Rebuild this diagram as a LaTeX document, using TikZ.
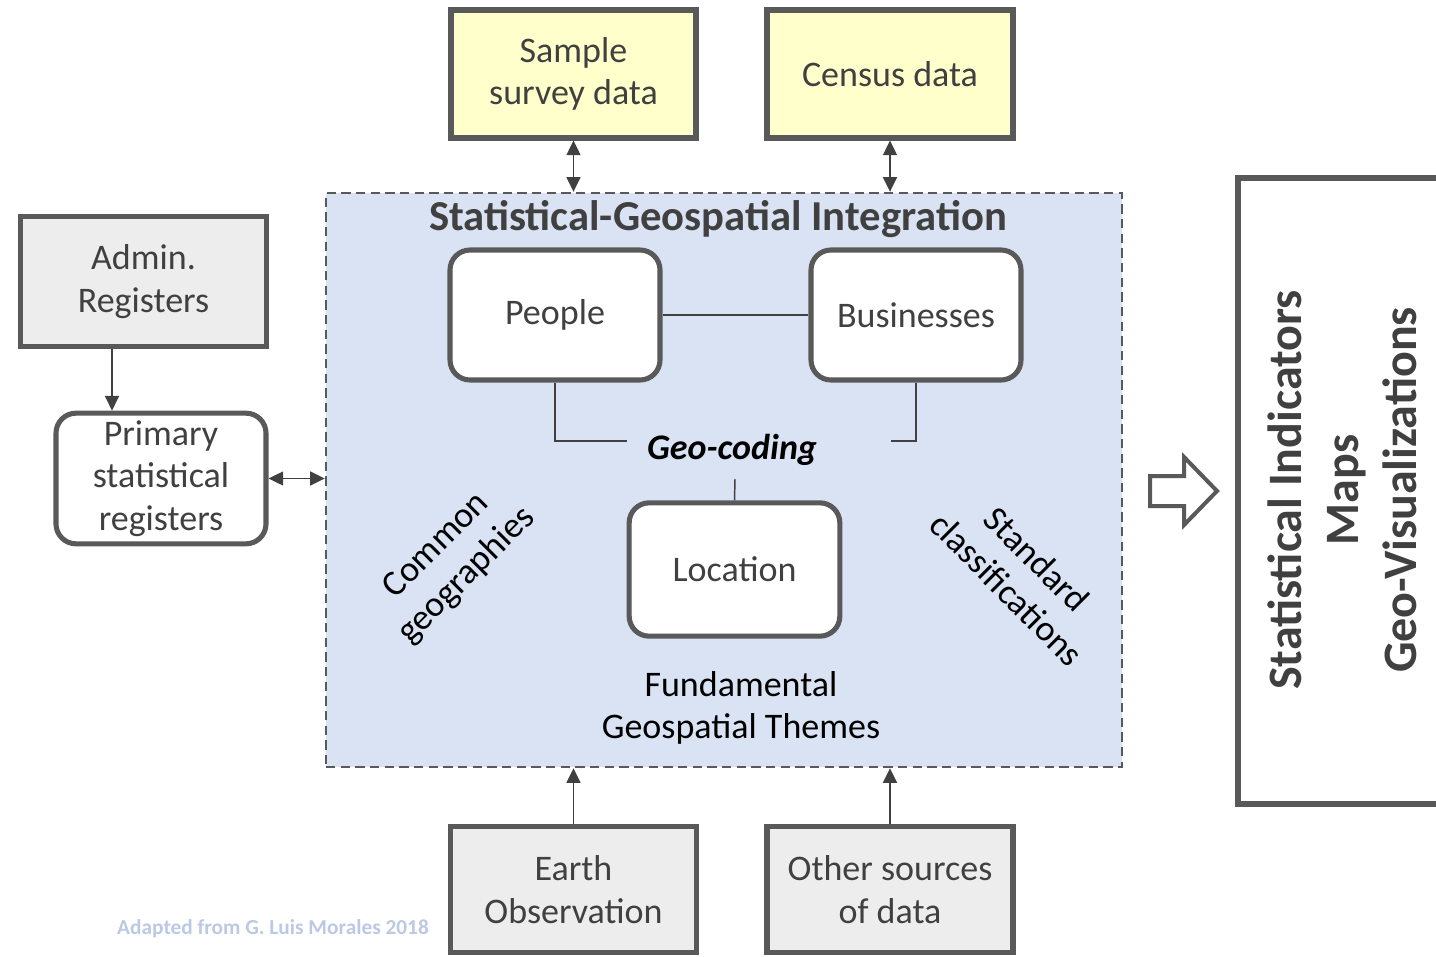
\documentclass[tikz,border=0pt]{standalone}
\usepackage{fontspec}
\setmainfont{Carlito}
\usetikzlibrary{arrows.meta}
\definecolor{bordergray}{HTML}{595959}
\definecolor{linegray}{HTML}{404040}
\definecolor{txtgray}{HTML}{404040}
\definecolor{yellowfill}{HTML}{FFFFCC}
\definecolor{grayfill}{HTML}{EDEDED}
\definecolor{bluefill}{HTML}{DAE3F3}
\definecolor{wmark}{HTML}{BCC9E4}
\tikzset{
  srcbox/.style={draw=bordergray, line width=3.8pt, rectangle, inner sep=0pt, align=center, text=txtgray,
    font=\fontsize{27}{32}\selectfont},
  roundbox/.style={srcbox, fill=white, rounded corners=15pt},
  thinline/.style={draw=linegray, line width=1.1pt},
  arr/.style={thinline, -{Triangle[length=11pt,width=10.5pt]}},
  dblarr/.style={thinline, {Triangle[length=11pt,width=10.5pt]}-{Triangle[length=11pt,width=10.5pt]}},
  plain/.style={align=center, font=\fontsize{27}{32}\selectfont}
}
\begin{document}
\begin{tikzpicture}[x=0.75pt,y=-0.75pt]
\useasboundingbox (0,0) rectangle (1436,957);
% big dashed integration box
\node[draw=bordergray, fill=bluefill, line width=1.8pt, dash pattern=on 7pt off 4pt,
      minimum width=597pt, minimum height=430.5pt, inner sep=0pt] (sgi) at (724,480) {};
\node[font=\bfseries\fontsize{32}{36}\selectfont, text=txtgray] (title) at (718,219) {Statistical-Geospatial Integration};
% source boxes
\node[srcbox, fill=yellowfill, minimum width=183.75pt, minimum height=96pt] (sample) at (573.5,74) {Sample\\survey data};
\node[srcbox, fill=yellowfill, minimum width=184.5pt, minimum height=96pt] (census) at (890,74) {Census data};
\node[srcbox, fill=grayfill, minimum width=185pt, minimum height=97pt] (admin) at (143.5,281.5) {Admin.\\Registers};
\node[roundbox, minimum width=157.5pt, minimum height=98pt] (primary) at (161,478.5) {Primary\\statistical\\registers};
\node[srcbox, fill=grayfill, minimum width=184pt, minimum height=95pt] (earth) at (573.5,889.5) {Earth\\Observation};
\node[srcbox, fill=grayfill, minimum width=184.5pt, minimum height=95pt] (other) at (890,889.5) {Other sources\\of data};
% inner boxes
\node[roundbox, minimum width=157.5pt, minimum height=97.5pt] (people) at (555,315) {People};
\node[roundbox, minimum width=157.5pt, minimum height=97.5pt] (business) at (916,315) {Businesses};
\node[roundbox, minimum width=158pt, minimum height=100pt] (location) at (734.5,569.5) {Location};
\node[font=\bfseries\itshape\fontsize{27}{32}\selectfont] (geo) at (732,450) {Geo-coding};
\node[plain, rotate=45] (common) at (452,561) {Common\\geographies};
\node[plain, rotate=-45] (standard) at (1022,574) {Standard\\classifications};
\node[plain] (themes) at (741,708) {Fundamental\\Geospatial Themes};
% connectors inside
\coordinate (gl) at (627,441);
\coordinate (gr) at (891,441);
\coordinate (gb) at (735,479);
\coordinate (ax) at (112,0);
\draw[thinline] (people.east) -- (business.west);
\draw[thinline] (people.south) |- (gl);
\draw[thinline] (business.south) |- (gr);
\draw[thinline] (location.north) -- (gb);
% arrows
\draw[dblarr] (sample.south) -- (sample.south |- sgi.north);
\draw[dblarr] (census.south) -- (census.south |- sgi.north);
\draw[arr] (earth.north) -- (earth.north |- sgi.south);
\draw[arr] (other.north) -- (other.north |- sgi.south);
\draw[arr] (admin.south -| ax) -- (primary.north -| ax);
\draw[dblarr] (primary.east) -- (primary.east -| sgi.west);
% outline arrow
\draw[draw=bordergray, fill=white, line width=3pt, line join=miter]
  (1150,476) -- (1184,476) -- (1184,457) -- (1217,491) -- (1184,525) -- (1184,506) -- (1150,506) -- cycle;
% output box
\draw[draw=bordergray, line width=3.8pt] (1440,178) -| (1238,804) -- (1440,804);
\node[rotate=90, align=center, text=txtgray, font=\bfseries\fontsize{36}{43}\selectfont] (output) at (1342,490)
  {Statistical Indicators\\Maps\\Geo-Visualizations};
% watermark
\node[text=wmark, font=\bfseries\fontsize{16}{19}\selectfont] (credit) at (273,929) {Adapted from G. Luis Morales 2018};
\end{tikzpicture}
\end{document}
